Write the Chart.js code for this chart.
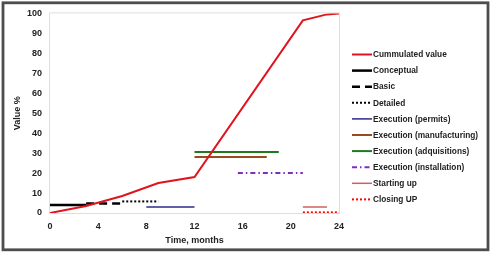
<!DOCTYPE html>
<html>
<head>
<meta charset="utf-8">
<script src="https://cdn.jsdelivr.net/npm/chart.js@4"></script>
<style>
html,body{margin:0;padding:0;background:#fff;}
#wrap{width:491px;height:255px;}
</style>
</head>
<body>
<div id="wrap"><canvas id="c" width="491" height="255"></canvas></div>
<script>
// ---- data ----
const cumMonths = [0, 3, 6, 9, 12, 21, 23, 24];
const cumValues = [0, 3.5, 8.5, 15, 18, 96.5, 99.5, 100];

const phaseLabels = ["Conceptual", "Basic", "Detailed", "Execution (permits)", "Execution (manufacturing)",
  "Execution (adquisitions)", "Execution (installation)", "Starting up", "Closing UP"];
const phaseStart = [0, 3, 6, 8, 12, 12, 15.6, 21, 21];
const phaseEnd   = [3, 6, 9, 12, 18, 19, 21, 23, 24];
const phaseLevel = [4, 4.8, 5.8, 3, 28, 30.5, 20, 3, 0.3];

const xTicks = [0, 4, 8, 12, 16, 20, 24];
const yTicks = [0, 10, 20, 30, 40, 50, 60, 70, 80, 90, 100];

// ---- styles ----
const phaseStyle = [
  {c: "#000000", w: 2.5, d: []},
  {c: "#000000", w: 2.5, d: [8, 5]},
  {c: "#000000", w: 2, d: [2, 2]},
  {c: "#2b2b8c", w: 1.5, d: []},
  {c: "#9a4a1c", w: 2, d: []},
  {c: "#1f7a1f", w: 2, d: []},
  {c: "#7b2fbe", w: 2, d: [5, 3, 1.5, 3]},
  {c: "#d0605c", w: 1.5, d: []},
  {c: "#ff0000", w: 2, d: [2, 2]}
];

const datasets = [{
  label: "Cummulated value",
  data: cumMonths.map((m, i) => ({x: m, y: cumValues[i]})),
  borderColor: "#e0141c", borderWidth: 2, borderDash: [],
  pointRadius: 0, tension: 0
}];
phaseLabels.forEach((lab, i) => {
  datasets.push({
    label: lab,
    data: [{x: phaseStart[i], y: phaseLevel[i]}, {x: phaseEnd[i], y: phaseLevel[i]}],
    borderColor: phaseStyle[i].c, borderWidth: phaseStyle[i].w, borderDash: phaseStyle[i].d,
    borderCapStyle: "butt", pointRadius: 0, tension: 0
  });
});

const FONT = "'Liberation Sans', Arial, sans-serif";

const frame = {
  id: "frame",
  beforeDraw(chart) {
    const ctx = chart.ctx;
    ctx.save();
    ctx.fillStyle = "#fff";
    ctx.fillRect(0, 0, chart.width, chart.height);
    ctx.restore();
  },
  beforeDatasetsDraw(chart) {
    const {ctx, chartArea: a} = chart;
    ctx.save();
    ctx.strokeStyle = "#dedede";
    ctx.lineWidth = 1;
    ctx.strokeRect(a.left - 0.5, a.top - 0.5, a.right - a.left + 1, a.bottom - a.top + 1);
    ctx.restore();
  },
  afterDraw(chart) {
    const ctx = chart.ctx;
    ctx.save();
    ctx.strokeStyle = "#4d4d4d";
    ctx.lineWidth = 2.8;
    ctx.strokeRect(3, 2.8, 485, 247);
    // legend
    const x0 = 352, x1 = 372, y0 = 54.5, step = 16.1;
    chart.data.datasets.forEach((ds, i) => {
      const y = y0 + i * step;
      ctx.beginPath();
      ctx.setLineDash(ds.borderDash || []);
      ctx.lineWidth = ds.borderWidth;
      ctx.strokeStyle = ds.borderColor;
      ctx.lineCap = "butt";
      ctx.moveTo(x0, y);
      ctx.lineTo(x1, y);
      ctx.stroke();
      ctx.setLineDash([]);
      ctx.fillStyle = "#222";
      ctx.font = "bold 8.3px " + FONT;
      ctx.textBaseline = "middle";
      ctx.textAlign = "left";
      ctx.fillText(ds.label, x1 + 1, y + 0.5);
    });
    ctx.restore();
  }
};

new Chart(document.getElementById("c"), {
  type: "line",
  data: {datasets},
  options: {
    responsive: false,
    animation: false,
    events: [],
    layout: {padding: {left: 4, right: 152, top: 12, bottom: 6}},
    plugins: {legend: {display: false}, tooltip: {enabled: false}},
    scales: {
      x: {
        type: "linear", min: 0, max: 24,
        afterBuildTicks: s => { s.ticks = xTicks.map(v => ({value: v})); },
        afterFit: s => { s.height = 36; },
        grid: {display: false, drawTicks: false},
        border: {display: false},
        ticks: {padding: 8, color: "#222", font: {family: FONT, size: 9, weight: "bold"}, maxRotation: 0, autoSkip: false},
        title: {display: true, text: "Time, months", color: "#222", font: {family: FONT, size: 9, weight: "bold"}, padding: {top: 0, bottom: 3}}
      },
      y: {
        min: 0, max: 100,
        afterBuildTicks: s => { s.ticks = yTicks.map(v => ({value: v})); },
        afterFit: s => { s.width = 46; },
        grid: {display: false, drawTicks: false},
        border: {display: false},
        ticks: {padding: 8, color: "#222", font: {family: FONT, size: 9, weight: "bold"}, autoSkip: false},
        title: {display: true, text: "Value %", color: "#222", font: {family: FONT, size: 9, weight: "bold"}, padding: {top: 8.5, bottom: 0}}
      }
    }
  },
  plugins: [frame]
});
</script>
</body>
</html>
